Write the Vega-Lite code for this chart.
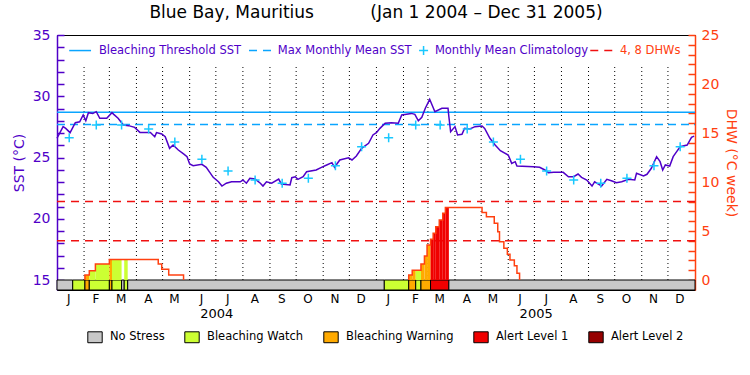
{
  "$schema": "https://vega.github.io/schema/vega-lite/v6.json",
  "width": 638,
  "height": 255,
  "autosize": {"type": "none"},
  "padding": {"left": 57, "top": 35, "right": 55, "bottom": 85},
  "background": "white",
  "title": {"text": "Blue Bay, Mauritius\u2003\u2003\u2003 (Jan 1 2004 \u2013 Dec 31 2005)", "font": "DejaVu Sans", "fontSize": 17, "fontWeight": "normal", "color": "#000", "offset": 6, "anchor": "middle"},
  "config": {
    "view": {"stroke": "#000", "strokeWidth": 1},
    "axis": {"grid": false},
    "legend": {
      "labelFont": "DejaVu Sans", "labelFontSize": 11.5, "labelColor": "#000", "labelOffset": 7,
      "columnPadding": 17, "padding": 0, "symbolStrokeColor": "#000", "symbolStrokeWidth": 1, "symbolOpacity": 1,
      "symbolType": "M-1,-0.76H1V0.76H-1Z", "symbolSize": 207, "labelLimit": 300
    }
  },
  "datasets": {
    "sst": [
      {"date":"2004-01-01","v":26.57},{"date":"2004-01-08","v":27.52},{"date":"2004-01-11","v":27.38},{"date":"2004-01-16","v":27.03},
      {"date":"2004-01-22","v":27.84},{"date":"2004-01-27","v":27.92},{"date":"2004-01-31","v":28.47},{"date":"2004-02-03","v":28.0},
      {"date":"2004-02-06","v":28.66},{"date":"2004-02-11","v":28.6},{"date":"2004-02-15","v":28.74},{"date":"2004-02-19","v":28.2},
      {"date":"2004-02-27","v":28.2},{"date":"2004-03-04","v":28.66},{"date":"2004-03-06","v":28.52},{"date":"2004-03-11","v":28.2},
      {"date":"2004-03-17","v":27.65},{"date":"2004-03-23","v":27.6},{"date":"2004-03-30","v":27.46},{"date":"2004-04-05","v":27.05},
      {"date":"2004-04-17","v":27.05},{"date":"2004-04-22","v":26.7},{"date":"2004-04-24","v":27.03},{"date":"2004-04-30","v":26.92},
      {"date":"2004-05-04","v":26.7},{"date":"2004-05-09","v":25.75},{"date":"2004-05-13","v":26.02},{"date":"2004-05-19","v":25.61},
      {"date":"2004-05-25","v":25.29},{"date":"2004-05-29","v":25.07},{"date":"2004-06-01","v":24.47},{"date":"2004-06-05","v":24.33},
      {"date":"2004-06-15","v":24.44},{"date":"2004-06-20","v":24.2},{"date":"2004-06-28","v":23.38},{"date":"2004-07-04","v":23.02},
      {"date":"2004-07-08","v":22.67},{"date":"2004-07-13","v":22.9},{"date":"2004-07-19","v":23.02},{"date":"2004-07-29","v":23.02},
      {"date":"2004-08-01","v":23.16},{"date":"2004-08-05","v":22.9},{"date":"2004-08-09","v":23.3},{"date":"2004-08-15","v":23.24},
      {"date":"2004-08-21","v":22.9},{"date":"2004-08-24","v":22.67},{"date":"2004-08-28","v":23.02},{"date":"2004-09-03","v":22.9},
      {"date":"2004-09-11","v":23.24},{"date":"2004-09-14","v":22.84},{"date":"2004-09-24","v":22.76},{"date":"2004-09-26","v":23.35},
      {"date":"2004-09-30","v":23.43},{"date":"2004-10-03","v":23.22},{"date":"2004-10-09","v":23.43},{"date":"2004-10-13","v":23.84},
      {"date":"2004-10-24","v":23.98},{"date":"2004-10-30","v":24.2},{"date":"2004-11-05","v":24.39},{"date":"2004-11-11","v":24.58},
      {"date":"2004-11-14","v":24.2},{"date":"2004-11-20","v":24.8},{"date":"2004-11-30","v":24.98},{"date":"2004-12-04","v":24.8},
      {"date":"2004-12-09","v":25.12},{"date":"2004-12-15","v":25.75},{"date":"2004-12-23","v":26.16},{"date":"2004-12-28","v":26.84},
      {"date":"2005-01-01","v":27.03},{"date":"2005-01-05","v":27.38},{"date":"2005-01-11","v":27.8},{"date":"2005-01-18","v":27.84},
      {"date":"2005-01-26","v":27.8},{"date":"2005-01-30","v":28.47},{"date":"2005-02-10","v":28.6},{"date":"2005-02-14","v":28.52},
      {"date":"2005-02-18","v":28.0},{"date":"2005-02-22","v":28.28},{"date":"2005-02-26","v":29.02},{"date":"2005-03-03","v":29.75},
      {"date":"2005-03-09","v":28.74},{"date":"2005-03-17","v":29.02},{"date":"2005-03-24","v":29.02},{"date":"2005-03-25","v":28.33},
      {"date":"2005-03-27","v":27.11},{"date":"2005-04-01","v":27.52},{"date":"2005-04-04","v":26.84},{"date":"2005-04-09","v":26.89},
      {"date":"2005-04-12","v":27.38},{"date":"2005-04-18","v":27.33},{"date":"2005-04-24","v":27.52},{"date":"2005-05-02","v":27.57},
      {"date":"2005-05-05","v":27.38},{"date":"2005-05-11","v":26.57},{"date":"2005-05-17","v":26.02},{"date":"2005-05-23","v":25.56},
      {"date":"2005-06-01","v":25.2},{"date":"2005-06-05","v":24.52},{"date":"2005-06-09","v":24.66},{"date":"2005-06-11","v":24.3},
      {"date":"2005-06-30","v":24.25},{"date":"2005-07-07","v":24.2},{"date":"2005-07-13","v":23.98},{"date":"2005-07-17","v":23.76},
      {"date":"2005-07-23","v":23.8},{"date":"2005-08-03","v":23.79},{"date":"2005-08-09","v":23.43},{"date":"2005-08-15","v":23.43},
      {"date":"2005-08-20","v":23.65},{"date":"2005-08-24","v":23.38},{"date":"2005-08-30","v":23.16},{"date":"2005-09-05","v":22.67},
      {"date":"2005-09-08","v":23.02},{"date":"2005-09-16","v":22.67},{"date":"2005-09-22","v":23.22},{"date":"2005-09-28","v":23.08},
      {"date":"2005-10-03","v":22.94},{"date":"2005-10-09","v":23.02},{"date":"2005-10-17","v":23.22},{"date":"2005-10-24","v":23.16},
      {"date":"2005-10-26","v":23.71},{"date":"2005-11-03","v":23.49},{"date":"2005-11-07","v":23.63},{"date":"2005-11-12","v":24.12},
      {"date":"2005-11-18","v":25.07},{"date":"2005-11-22","v":24.66},{"date":"2005-11-25","v":23.98},{"date":"2005-11-28","v":24.39},
      {"date":"2005-12-03","v":24.3},{"date":"2005-12-07","v":25.07},{"date":"2005-12-11","v":25.48},{"date":"2005-12-15","v":25.88},
      {"date":"2005-12-23","v":26.02},{"date":"2005-12-28","v":26.65},{"date":"2005-12-31","v":26.75}
    ],
    "clim": [
      {"date":"2004-01-15","v":26.62},{"date":"2004-02-15","v":27.65},{"date":"2004-03-15","v":27.65},{"date":"2004-04-15","v":27.33},
      {"date":"2004-05-15","v":26.27},{"date":"2004-06-15","v":24.85},{"date":"2004-07-15","v":23.9},{"date":"2004-08-15","v":23.16},
      {"date":"2004-09-15","v":22.9},{"date":"2004-10-15","v":23.3},{"date":"2004-11-15","v":24.33},{"date":"2004-12-15","v":25.88},
      {"date":"2005-01-15","v":26.62},{"date":"2005-02-15","v":27.65},{"date":"2005-03-15","v":27.65},{"date":"2005-04-15","v":27.33},
      {"date":"2005-05-15","v":26.27},{"date":"2005-06-15","v":24.85},{"date":"2005-07-15","v":23.9},{"date":"2005-08-15","v":23.16},
      {"date":"2005-09-15","v":22.9},{"date":"2005-10-15","v":23.3},{"date":"2005-11-15","v":24.33},{"date":"2005-12-15","v":25.88}
    ],
    "months": [
      {"date":"2004-02-01"},{"date":"2004-03-01"},{"date":"2004-04-01"},{"date":"2004-05-01"},{"date":"2004-06-01"},{"date":"2004-07-01"},
      {"date":"2004-08-01"},{"date":"2004-09-01"},{"date":"2004-10-01"},{"date":"2004-11-01"},{"date":"2004-12-01"},{"date":"2005-01-01"},
      {"date":"2005-02-01"},{"date":"2005-03-01"},{"date":"2005-04-01"},{"date":"2005-05-01"},{"date":"2005-06-01"},{"date":"2005-07-01"},
      {"date":"2005-08-01"},{"date":"2005-09-01"},{"date":"2005-10-01"},{"date":"2005-11-01"},{"date":"2005-12-01"}
    ],
    "strip": [
      {"date":"2004-01-01","end":"2004-01-19","level":"No Stress"},
      {"date":"2004-01-19","end":"2004-02-02","level":"Bleaching Watch"},
      {"date":"2004-02-02","end":"2004-02-07","level":"Bleaching Warning"},
      {"date":"2004-02-07","end":"2004-03-01","level":"Bleaching Watch"},
      {"date":"2004-03-01","end":"2004-03-04","level":"Bleaching Warning"},
      {"date":"2004-03-04","end":"2004-03-15","level":"Bleaching Watch"},
      {"date":"2004-03-15","end":"2004-03-18","level":"No Stress"},
      {"date":"2004-03-18","end":"2004-03-22","level":"Bleaching Watch"},
      {"date":"2004-03-22","end":"2005-01-10","level":"No Stress"},
      {"date":"2005-01-10","end":"2005-02-07","level":"Bleaching Watch"},
      {"date":"2005-02-07","end":"2005-02-15","level":"Bleaching Warning"},
      {"date":"2005-02-15","end":"2005-02-21","level":"Bleaching Watch"},
      {"date":"2005-02-21","end":"2005-03-04","level":"Bleaching Warning"},
      {"date":"2005-03-04","end":"2005-03-25","level":"Alert Level 1"},
      {"date":"2005-03-25","end":"2006-01-01","level":"No Stress"}
    ],
    "fill": [
      {"date":"2004-02-02","end":"2004-02-07","level":"Bleaching Warning","dhw":0.5},
      {"date":"2004-02-07","end":"2004-02-14","level":"Bleaching Watch","dhw":0.95},
      {"date":"2004-02-14","end":"2004-03-01","level":"Bleaching Watch","dhw":1.63},
      {"date":"2004-03-01","end":"2004-03-04","level":"Bleaching Warning","dhw":2.1},
      {"date":"2004-03-04","end":"2004-03-15","level":"Bleaching Watch","dhw":2.1},
      {"date":"2004-03-18","end":"2004-03-22","level":"Bleaching Watch","dhw":2.1},
      {"date":"2005-02-07","end":"2005-02-11","level":"Bleaching Warning","dhw":0.5},
      {"date":"2005-02-11","end":"2005-02-15","level":"Bleaching Warning","dhw":0.99},
      {"date":"2005-02-15","end":"2005-02-21","level":"Bleaching Watch","dhw":0.99},
      {"date":"2005-02-21","end":"2005-02-25","level":"Bleaching Warning","dhw":1.63},
      {"date":"2005-02-25","end":"2005-02-28","level":"Bleaching Warning","dhw":2.45},
      {"date":"2005-02-28","end":"2005-03-04","level":"Bleaching Warning","dhw":3.57},
      {"date":"2005-03-04","end":"2005-03-07","level":"Alert Level 1","dhw":4.15},
      {"date":"2005-03-07","end":"2005-03-10","level":"Alert Level 1","dhw":4.76},
      {"date":"2005-03-10","end":"2005-03-14","level":"Alert Level 1","dhw":5.44},
      {"date":"2005-03-14","end":"2005-03-18","level":"Alert Level 1","dhw":6.12},
      {"date":"2005-03-18","end":"2005-03-21","level":"Alert Level 1","dhw":6.8},
      {"date":"2005-03-21","end":"2005-03-25","level":"Alert Level 1","dhw":7.41}
    ],
    "outline": [
      {"date":"2004-02-02","dhw":0,"event":"2004"},{"date":"2004-02-02","dhw":0.5,"event":"2004"},
      {"date":"2004-02-07","dhw":0.95,"event":"2004"},{"date":"2004-02-14","dhw":1.63,"event":"2004"},
      {"date":"2004-03-01","dhw":2.1,"event":"2004"},{"date":"2004-04-26","dhw":1.63,"event":"2004"},
      {"date":"2004-04-30","dhw":1.09,"event":"2004"},{"date":"2004-05-08","dhw":0.5,"event":"2004"},
      {"date":"2004-05-25","dhw":0,"event":"2004"},
      {"date":"2005-02-07","dhw":0,"event":"2005"},{"date":"2005-02-07","dhw":0.5,"event":"2005"},
      {"date":"2005-02-11","dhw":0.99,"event":"2005"},{"date":"2005-02-21","dhw":1.63,"event":"2005"},
      {"date":"2005-02-25","dhw":2.45,"event":"2005"},{"date":"2005-02-28","dhw":3.57,"event":"2005"},
      {"date":"2005-03-04","dhw":4.15,"event":"2005"},{"date":"2005-03-07","dhw":4.76,"event":"2005"},
      {"date":"2005-03-10","dhw":5.44,"event":"2005"},{"date":"2005-03-14","dhw":6.12,"event":"2005"},
      {"date":"2005-03-18","dhw":6.8,"event":"2005"},{"date":"2005-03-21","dhw":7.41,"event":"2005"},
      {"date":"2005-05-02","dhw":6.9,"event":"2005"},{"date":"2005-05-07","dhw":6.46,"event":"2005"},
      {"date":"2005-05-16","dhw":5.78,"event":"2005"},{"date":"2005-05-20","dhw":4.93,"event":"2005"},
      {"date":"2005-05-22","dhw":3.9,"event":"2005"},{"date":"2005-05-27","dhw":3.23,"event":"2005"},
      {"date":"2005-05-31","dhw":2.62,"event":"2005"},{"date":"2005-06-03","dhw":2.04,"event":"2005"},
      {"date":"2005-06-08","dhw":1.46,"event":"2005"},{"date":"2005-06-11","dhw":0.68,"event":"2005"},
      {"date":"2005-06-14","dhw":0,"event":"2005"}
    ]
  },
  "encoding": {
    "x": {
      "field": "date", "type": "temporal",
      "scale": {"type": "utc", "nice": false, "domain": [{"year": 2004, "month": 1, "date": 1, "utc": true}, {"year": 2006, "month": 1, "date": 1, "utc": true}]},
      "axis": {
        "values": [
          {"year":2004,"month":1,"date":14,"utc":true},{"year":2004,"month":2,"date":14,"utc":true},{"year":2004,"month":3,"date":14,"utc":true},
          {"year":2004,"month":4,"date":14,"utc":true},{"year":2004,"month":5,"date":14,"utc":true},{"year":2004,"month":6,"date":14,"utc":true},
          {"year":2004,"month":7,"date":14,"utc":true},{"year":2004,"month":8,"date":14,"utc":true},{"year":2004,"month":9,"date":14,"utc":true},
          {"year":2004,"month":10,"date":14,"utc":true},{"year":2004,"month":11,"date":14,"utc":true},{"year":2004,"month":12,"date":14,"utc":true},
          {"year":2005,"month":1,"date":14,"utc":true},{"year":2005,"month":2,"date":14,"utc":true},{"year":2005,"month":3,"date":14,"utc":true},
          {"year":2005,"month":4,"date":14,"utc":true},{"year":2005,"month":5,"date":14,"utc":true},{"year":2005,"month":6,"date":14,"utc":true},
          {"year":2005,"month":7,"date":14,"utc":true},{"year":2005,"month":8,"date":14,"utc":true},{"year":2005,"month":9,"date":14,"utc":true},
          {"year":2005,"month":10,"date":14,"utc":true},{"year":2005,"month":11,"date":14,"utc":true},{"year":2005,"month":12,"date":14,"utc":true}
        ],
        "labelExpr": "slice(utcFormat(datum.value, '%b'), 0, 1)",
        "ticks": false, "domain": false, "grid": false, "title": null,
        "labelPadding": 3, "labelFont": "DejaVu Sans", "labelFontSize": 12, "labelColor": "#000", "labelOverlap": false
      }
    }
  },
  "layer": [
    {
      "data": {"name": "strip"},
      "mark": {"type": "rect", "stroke": "#000", "strokeWidth": 1},
      "encoding": {
        "x2": {"field": "end"},
        "y": {"datum": -1.0204, "type": "quantitative", "axis": null, "scale": {"domain": [-1.0204, 25], "nice": false, "zero": false}},
        "y2": {"datum": 0},
        "fill": {"field": "level", "type": "nominal",
          "scale": {"domain": ["No Stress", "Bleaching Watch", "Bleaching Warning", "Alert Level 1", "Alert Level 2"], "range": ["#C8C8C8", "#CCFF33", "#FFAA00", "#F00000", "#960000"]},
          "legend": {
            "orient": "none", "legendX": 30, "legendY": 294, "direction": "horizontal", "columns": 5, "title": null,
            "symbolType": "M-1,-0.76H1V0.76H-1Z", "symbolSize": 207, "symbolStrokeColor": "#000", "symbolStrokeWidth": 1, "symbolOpacity": 1,
            "labelFont": "DejaVu Sans", "labelFontSize": 11.5, "labelColor": "#000", "labelOffset": 7, "columnPadding": 17, "padding": 0
          }
        }
      }
    },
    {
      "data": {"name": "months"},
      "mark": {"type": "rule", "stroke": "#000", "strokeDash": [1, 3], "strokeWidth": 1},
      "encoding": {"y": {"datum": 15, "type": "quantitative", "axis": null, "scale": {"domain": [14.184, 35], "nice": false, "zero": false}}, "y2": {"datum": 32.55}}
    },
    {
      "data": {"values": [{"date": "2004-01-01", "end": "2006-01-01", "v": 28.7}]},
      "mark": {"type": "rule", "stroke": "#0AA5FF", "strokeWidth": 1.5},
      "encoding": {"x2": {"field": "end"}, "y": {"field": "v", "type": "quantitative", "axis": null, "scale": {"domain": [14.184, 35], "nice": false, "zero": false}}}
    },
    {
      "data": {"values": [{"date": "2004-01-01", "end": "2006-01-01", "v": 27.7}]},
      "mark": {"type": "rule", "stroke": "#0AA5FF", "strokeWidth": 1.5, "strokeDash": [8, 5]},
      "encoding": {"x2": {"field": "end"}, "y": {"field": "v", "type": "quantitative", "axis": null, "scale": {"domain": [14.184, 35], "nice": false, "zero": false}}}
    },
    {
      "data": {"values": [{"date": "2004-01-01", "end": "2006-01-01", "dhw": 4}, {"date": "2004-01-01", "end": "2006-01-01", "dhw": 8}]},
      "mark": {"type": "rule", "stroke": "#F01010", "strokeWidth": 1.5, "strokeDash": [8, 6]},
      "encoding": {
        "x2": {"field": "end"},
        "y": {
          "field": "dhw", "type": "quantitative",
          "scale": {"domain": [-1.0204, 25], "nice": false, "zero": false},
          "axis": {
            "orient": "right",
            "values": [0,1,2,3,4,5,6,7,8,9,10,11,12,13,14,15,16,17,18,19,20,21,22,23,24,25],
            "labelExpr": "datum.value % 5 === 0 ? datum.label : ''",
            "tickSize": -7,
            "encode": {"ticks": {"update": {"x2": {"signal": "datum.value % 5 === 0 ? -12 : -7"}}}},
            "labelPadding": 13, "labelOverlap": false,
            "domainColor": "#FF4010", "domainWidth": 1.5, "tickColor": "#FF4010", "tickWidth": 1.5,
            "labelColor": "#FF4010", "labelFont": "DejaVu Sans", "labelFontSize": 14,
            "title": "DHW (°C week)", "titleColor": "#FF4010", "titleFont": "DejaVu Sans", "titleFontSize": 14, "titleFontWeight": "normal", "titlePadding": 5,
            "grid": false
          }
        }
      }
    },
    {
      "data": {"name": "fill"},
      "mark": {"type": "rect", "strokeWidth": 0},
      "encoding": {
        "x2": {"field": "end"},
        "y": {"field": "dhw", "type": "quantitative", "axis": null, "scale": {"domain": [-1.0204, 25], "nice": false, "zero": false}},
        "y2": {"datum": 0},
        "fill": {"field": "level", "type": "nominal",
          "scale": {"domain": ["No Stress", "Bleaching Watch", "Bleaching Warning", "Alert Level 1", "Alert Level 2"], "range": ["#C8C8C8", "#CCFF33", "#FFAA00", "#F00000", "#960000"]}}
      }
    },
    {
      "data": {"name": "outline"},
      "mark": {"type": "line", "interpolate": "step-after", "stroke": "#FF4010", "strokeWidth": 1.5},
      "encoding": {
        "y": {"field": "dhw", "type": "quantitative", "axis": null, "scale": {"domain": [-1.0204, 25], "nice": false, "zero": false}},
        "detail": {"field": "event"}
      }
    },
    {
      "data": {"name": "sst"},
      "mark": {"type": "line", "stroke": "#5000C8", "strokeWidth": 1.5},
      "encoding": {
        "y": {
          "field": "v", "type": "quantitative",
          "scale": {"domain": [14.184, 35], "nice": false, "zero": false},
          "axis": {
            "orient": "left",
            "values": [15,16,17,18,19,20,21,22,23,24,25,26,27,28,29,30,31,32,33,34,35],
            "labelExpr": "datum.value % 5 === 0 ? datum.label : ''",
            "tickSize": -7,
            "encode": {"ticks": {"update": {"x2": {"signal": "datum.value % 5 === 0 ? 12 : 7"}}}},
            "labelPadding": 14, "labelOverlap": false,
            "domainColor": "#5000C8", "domainWidth": 1.5, "tickColor": "#5000C8", "tickWidth": 1.5,
            "labelColor": "#5000C8", "labelFont": "DejaVu Sans", "labelFontSize": 14,
            "title": "SST (°C)", "titleColor": "#5000C8", "titleFont": "DejaVu Sans", "titleFontSize": 14, "titleFontWeight": "normal", "titlePadding": 6,
            "grid": false
          }
        }
      }
    },
    {
      "data": {"name": "clim"},
      "mark": {"type": "point", "shape": "M-1,0H1M0,-1V1", "filled": false, "stroke": "#19C8FF", "strokeWidth": 1.5, "size": 81, "opacity": 1},
      "encoding": {"y": {"field": "v", "type": "quantitative", "axis": null, "scale": {"domain": [14.184, 35], "nice": false, "zero": false}}}
    },
    {
      "data": {"values": [{"date": "2004-01-15", "end": "2004-02-09", "v": 33.73}]},
      "mark": {"type": "rule", "stroke": "#0AA5FF", "strokeWidth": 1.5},
      "encoding": {"x2": {"field": "end"}, "y": {"field": "v", "type": "quantitative", "axis": null, "scale": {"domain": [14.184, 35], "nice": false, "zero": false}}}
    },
    {
      "data": {"values": [{"date": "2004-08-08", "end": "2004-09-03", "v": 33.73}]},
      "mark": {"type": "rule", "stroke": "#0AA5FF", "strokeWidth": 1.5, "strokeDash": [8, 6]},
      "encoding": {"x2": {"field": "end"}, "y": {"field": "v", "type": "quantitative", "axis": null, "scale": {"domain": [14.184, 35], "nice": false, "zero": false}}}
    },
    {
      "data": {"values": [{"date": "2005-09-03", "end": "2005-09-29", "v": 33.73}]},
      "mark": {"type": "rule", "stroke": "#F01010", "strokeWidth": 1.5, "strokeDash": [8, 6]},
      "encoding": {"x2": {"field": "end"}, "y": {"field": "v", "type": "quantitative", "axis": null, "scale": {"domain": [14.184, 35], "nice": false, "zero": false}}}
    },
    {
      "data": {"values": [{"date": "2005-02-24", "v": 33.73}]},
      "mark": {"type": "point", "shape": "M-1,0H1M0,-1V1", "filled": false, "stroke": "#19C8FF", "strokeWidth": 1.5, "size": 81, "opacity": 1},
      "encoding": {"y": {"field": "v", "type": "quantitative", "axis": null, "scale": {"domain": [14.184, 35], "nice": false, "zero": false}}}
    },
    {
      "data": {"values": [
        {"date": "2004-02-18", "v": 33.73, "label": "Bleaching Threshold SST"},
        {"date": "2004-09-10", "v": 33.73, "label": "Max Monthly Mean SST"},
        {"date": "2005-03-09", "v": 33.73, "label": "Monthly Mean Climatology"},
        {"date": "2005-10-07", "v": 33.73, "label": "4, 8 DHWs"}
      ]},
      "mark": {"type": "text", "align": "left", "baseline": "middle", "font": "DejaVu Sans", "fontSize": 11.5},
      "encoding": {
        "y": {"field": "v", "type": "quantitative", "axis": null, "scale": {"domain": [14.184, 35], "nice": false, "zero": false}},
        "text": {"field": "label"},
        "color": {"condition": {"test": "datum.label === '4, 8 DHWs'", "value": "#FF4010"}, "value": "#5000C8"}
      }
    },
    {
      "data": {"values": [
        {"date": "2004-07-02", "v": 12.22, "label": "2004"},
        {"date": "2005-07-03", "v": 12.22, "label": "2005"}
      ]},
      "mark": {"type": "text", "align": "center", "baseline": "middle", "font": "DejaVu Sans", "fontSize": 13, "color": "#000"},
      "encoding": {"y": {"field": "v", "type": "quantitative", "axis": null, "scale": {"domain": [14.184, 35], "nice": false, "zero": false}}, "text": {"field": "label"}}
    }
  ],
  "resolve": {"scale": {"y": "independent"}}
}
